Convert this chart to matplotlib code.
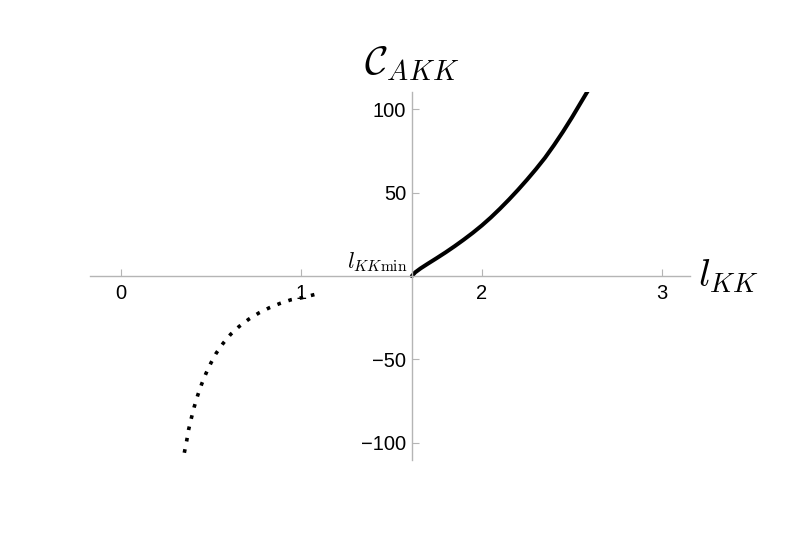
import numpy as np
import matplotlib.pyplot as plt

plt.rcParams['font.family'] = ['Liberation Sans', 'DejaVu Sans']
plt.rcParams['mathtext.fontset'] = 'cm'

# upper branch (solid)
l_solid = [1.612, 1.630, 1.660, 1.70, 1.75, 1.80, 1.85, 1.90, 1.95, 2.00, 2.05, 2.10,
           2.15, 2.20, 2.25, 2.30, 2.35, 2.40, 2.45, 2.50, 2.55, 2.592]
c_solid = [0.0, 2.2, 4.6, 7.4, 10.8, 14.3, 18.0, 21.9, 26.0, 30.4, 35.2, 40.4,
           45.9, 51.7, 57.8, 64.2, 71.0, 78.6, 86.7, 95.3, 104.4, 112.0]

# lower branch (dotted)
l_dot = [0.351, 0.364, 0.375, 0.390, 0.406, 0.425, 0.447, 0.471, 0.499, 0.528, 0.567,
         0.608, 0.655, 0.709, 0.766, 0.822, 0.881, 0.942, 1.010, 1.075]
c_dot = [-106.0, -98.9, -92.0, -85.2, -78.4, -71.6, -64.8, -58.4, -52.0, -46.2, -40.2,
         -34.9, -30.2, -25.8, -22.0, -19.0, -16.4, -14.2, -12.8, -11.0]

x_ticks = [0, 1, 2, 3]
y_ticks = [-100, -50, 50, 100]
l_min = 1.612

fig = plt.figure(figsize=(7.85, 5.55), dpi=100)
ax = fig.add_axes([0.1146, 0.171, 0.764, 0.663])

ax.plot(l_solid, c_solid, color='black', lw=2.9, solid_capstyle='round')
ax.plot(l_dot, c_dot, color='black', lw=2.6, linestyle=(0, (1, 2.2)))

ax.set_xlim(-0.172, 3.152)
ax.set_ylim(-110.4, 110.4)

# axes crossing at (l_min, 0), Mathematica style
for s in ['top', 'right']:
    ax.spines[s].set_visible(False)
ax.spines['left'].set_position(('data', l_min))
ax.spines['bottom'].set_position(('data', 0))
for s in ['left', 'bottom']:
    ax.spines[s].set_color('#b5b5b5')
    ax.spines[s].set_linewidth(1.0)

ax.set_xticks(x_ticks)
ax.set_yticks(y_ticks)
ax.set_xticklabels([str(t) for t in x_ticks])
ax.set_yticklabels(['\u2212100', '\u221250', '50', '100'])
ax.tick_params(axis='x', direction='in', length=5, color='#b5b5b5', labelsize=14.5, pad=6)
ax.tick_params(axis='y', direction='in', length=5, color='#b5b5b5', labelsize=14.5, pad=4)

ax.text(l_min, 116, r'$\mathcal{C}_{AKK}$', fontsize=29, ha='center', va='bottom')
ax.text(3.2, 0, r'$l_{KK}$', fontsize=28, ha='left', va='center')
ax.text(1.59, 1.5, r'$l_{KK\mathrm{min}}$', fontsize=16, ha='right', va='bottom')

fig.savefig('out.png', dpi=100)
